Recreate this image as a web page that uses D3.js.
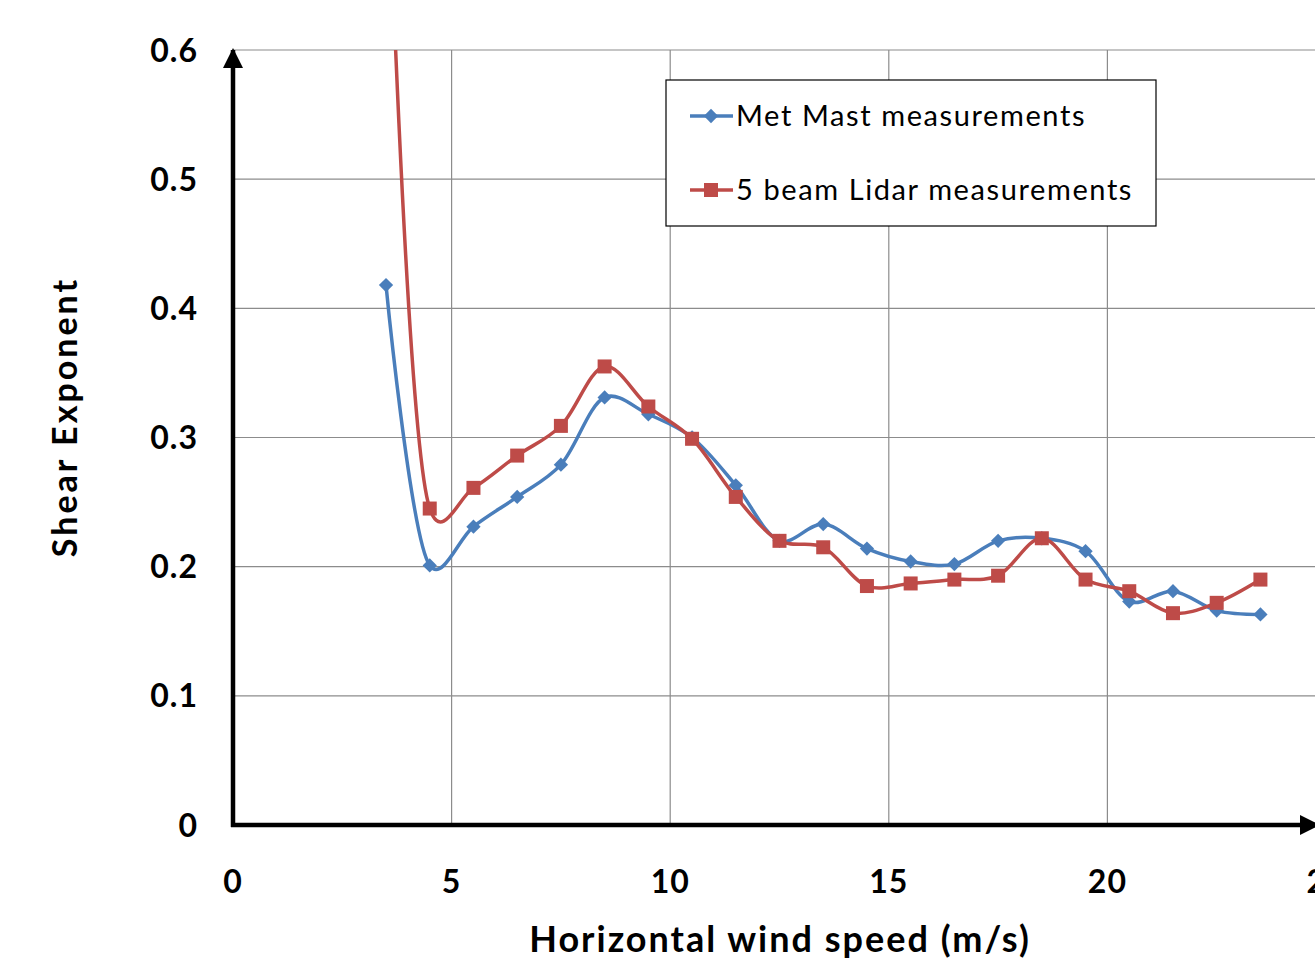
<!DOCTYPE html>
<html>
<head>
<meta charset="utf-8">
<script src="https://d3js.org/d3.v7.min.js"></script>
<style>
  body { margin: 0; background: #fff; }
  svg { display: block; }
  text { font-family: Lato, "Open Sans", sans-serif; }
</style>
</head>
<body>
<script>
// wind speed bins (m/s)
var speeds = [3.5, 4.5, 5.5, 6.5, 7.5, 8.5, 9.5, 10.5, 11.5, 12.5, 13.5,
              14.5, 15.5, 16.5, 17.5, 18.5, 19.5, 20.5, 21.5, 22.5, 23.5];

var metMast = [0.418, 0.201, 0.231, 0.254, 0.279, 0.331, 0.318, 0.300, 0.263, 0.220, 0.233,
               0.214, 0.204, 0.202, 0.220, 0.222, 0.212, 0.173, 0.181, 0.166, 0.163];

var lidar = [0.80, 0.245, 0.261, 0.286, 0.309, 0.355, 0.324, 0.299, 0.254, 0.220, 0.215,
             0.185, 0.187, 0.190, 0.193, 0.222, 0.190, 0.181, 0.164, 0.172, 0.190];

var xTicks = [0, 5, 10, 15, 20, 25];
var yTicks = [0, 0.1, 0.2, 0.3, 0.4, 0.5, 0.6];

var seriesNames = ['Met Mast measurements', '5 beam Lidar measurements'];
var blue = '#4a7ebb', red = '#be4b48';

var width = 1315, height = 959;

var svg = d3.select('body').append('svg')
  .attr('width', width)
  .attr('height', height);

var x = d3.scaleLinear().domain([0, 25]).range([233, 1326]);
var y = d3.scaleLinear().domain([0, 0.6]).range([825, 50]);

// gridlines
svg.append('g').selectAll('line').data(yTicks.slice(1))
  .enter().append('line')
  .attr('x1', x(0)).attr('x2', width)
  .attr('y1', function(d) { return y(d); })
  .attr('y2', function(d) { return y(d); })
  .attr('stroke', '#8c8c8c').attr('stroke-width', 1.2);

svg.append('g').selectAll('line').data(xTicks.slice(1))
  .enter().append('line')
  .attr('x1', function(d) { return x(d); })
  .attr('x2', function(d) { return x(d); })
  .attr('y1', y(0.6)).attr('y2', y(0))
  .attr('stroke', '#8c8c8c').attr('stroke-width', 1.2);

// clip for the series
svg.append('clipPath').attr('id', 'plot')
  .append('rect')
  .attr('x', x(0)).attr('y', y(0.6))
  .attr('width', width - x(0)).attr('height', y(0) - y(0.6));

var line = d3.line()
  .x(function(d) { return x(d[0]); })
  .y(function(d) { return y(d[1]); })
  .curve(d3.curveCatmullRom.alpha(0.25));

var plot = svg.append('g').attr('clip-path', 'url(#plot)');

var metData = speeds.map(function(s, i) { return [s, metMast[i]]; });
var lidarData = speeds.map(function(s, i) { return [s, lidar[i]]; });

plot.append('path').datum(metData)
  .attr('d', line).attr('fill', 'none')
  .attr('stroke', blue).attr('stroke-width', 3.5);

plot.append('path').datum(lidarData)
  .attr('d', line).attr('fill', 'none')
  .attr('stroke', red).attr('stroke-width', 3.5);

var diamond = d3.symbol().type(d3.symbolDiamond2).size(130);

plot.selectAll('.met').data(metData)
  .enter().append('path').attr('class', 'met')
  .attr('d', diamond)
  .attr('transform', function(d) { return 'translate(' + x(d[0]) + ',' + y(d[1]) + ')'; })
  .attr('fill', blue);

plot.selectAll('.lid').data(lidarData)
  .enter().append('rect').attr('class', 'lid')
  .attr('x', function(d) { return x(d[0]) - 7; })
  .attr('y', function(d) { return y(d[1]) - 7; })
  .attr('width', 14).attr('height', 14)
  .attr('fill', red);

// axes with arrows
svg.append('defs').append('marker')
  .attr('id', 'arrow')
  .attr('viewBox', '0 0 10 10')
  .attr('refX', 9).attr('refY', 5)
  .attr('markerWidth', 4.5).attr('markerHeight', 4.5)
  .attr('orient', 'auto')
  .append('path').attr('d', 'M0,0 L10,5 L0,10 Z').attr('fill', '#000');

svg.append('line')
  .attr('x1', x(0)).attr('y1', y(0) + 2)
  .attr('x2', x(0)).attr('y2', y(0.6))
  .attr('stroke', '#000').attr('stroke-width', 4.5)
  .attr('marker-end', 'url(#arrow)');

svg.append('line')
  .attr('x1', x(0) - 2).attr('y1', y(0))
  .attr('x2', 1318).attr('y2', y(0))
  .attr('stroke', '#000').attr('stroke-width', 4.5)
  .attr('marker-end', 'url(#arrow)');

// tick labels
svg.append('g').selectAll('text').data(yTicks)
  .enter().append('text')
  .attr('x', 198)
  .attr('y', function(d) { return y(d); })
  .attr('dy', '0.36em')
  .attr('text-anchor', 'end')
  .attr('font-size', 32).attr('font-weight', 'bold')
  .attr('letter-spacing', 1)
  .text(function(d) { return d === 0 ? '0' : d3.format('.1f')(d); });

svg.append('g').selectAll('text').data(xTicks)
  .enter().append('text')
  .attr('x', function(d) { return x(d); })
  .attr('y', 893)
  .attr('text-anchor', 'middle')
  .attr('font-size', 32).attr('font-weight', 'bold')
  .attr('letter-spacing', 1)
  .text(function(d) { return d; });

// axis titles
svg.append('text')
  .attr('x', 780).attr('y', 952)
  .attr('text-anchor', 'middle')
  .attr('font-size', 36).attr('font-weight', 'bold')
  .attr('letter-spacing', 2)
  .text('Horizontal wind speed (m/s)');

svg.append('text')
  .attr('transform', 'translate(77,417) rotate(-90)')
  .attr('text-anchor', 'middle')
  .attr('font-size', 34).attr('font-weight', 'bold')
  .attr('letter-spacing', 3)
  .text('Shear Exponent');

// legend
var legend = svg.append('g');
legend.append('rect')
  .attr('x', 666).attr('y', 80)
  .attr('width', 490).attr('height', 146)
  .attr('fill', '#fff').attr('stroke', '#000').attr('stroke-width', 1.2);

var rows = [116, 190];
rows.forEach(function(ry, i) {
  var c = i === 0 ? blue : red;
  legend.append('line')
    .attr('x1', 690).attr('x2', 733)
    .attr('y1', ry).attr('y2', ry)
    .attr('stroke', c).attr('stroke-width', 3.5);
  if (i === 0) {
    legend.append('path').attr('d', diamond)
      .attr('transform', 'translate(711,' + ry + ')').attr('fill', c);
  } else {
    legend.append('rect').attr('x', 704).attr('y', ry - 7)
      .attr('width', 14).attr('height', 14).attr('fill', c);
  }
  legend.append('text')
    .attr('x', 736).attr('y', ry)
    .attr('dy', '0.36em')
    .attr('font-size', 29)
    .attr('letter-spacing', 1.6)
    .text(seriesNames[i]);
});
</script>
</body>
</html>
